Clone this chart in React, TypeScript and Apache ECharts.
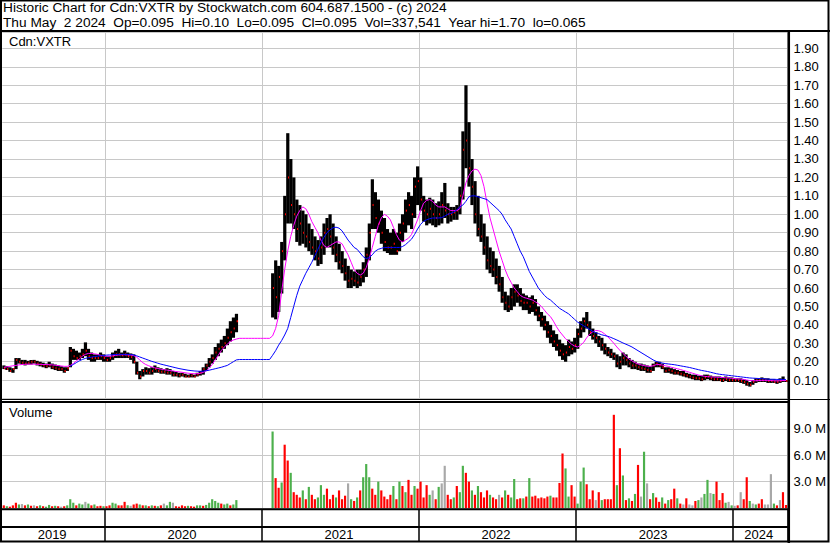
import React, { useEffect, useRef } from 'react';
import * as echarts from 'echarts';

// ---- data (one slot = one week, May 2019 .. May 2 2024) ----
const SLOT_COUNT = 260;
const YEAR_LABELS = ['2019', '2020', '2021', '2022', '2023', '2024'];
const YEAR_START_SLOTS = [0, 34, 86, 138, 190, 242];
const YEAR_LABEL_SLOTS = [16, 59, 111, 163, 215, 250];

const HIGH = [
  0.18, 0.175, 0.17, 0.165, 0.22, 0.22, 0.21, 0.21, 0.205, 0.21,
  0.21, 0.205, 0.2, 0.195, 0.19, 0.2, 0.19, 0.185, 0.18, 0.175,
  0.17, 0.17, 0.28, 0.27, 0.26, 0.25, 0.27, 0.305, 0.27, 0.25,
  0.24, 0.24, 0.25, 0.24, 0.23, 0.23, 0.25, 0.26, 0.27, 0.25,
  0.26, 0.25, 0.245, 0.24, 0.2, 0.15, 0.16, 0.17, 0.165, 0.17,
  0.18, 0.17, 0.165, 0.16, 0.165, 0.16, 0.15, 0.145, 0.14, 0.14,
  0.135, 0.13, 0.135, 0.13, 0.14, 0.15, 0.17, 0.19, 0.22, 0.24,
  0.28, 0.3, 0.32, 0.34, 0.38, 0.42, 0.44, 0.46, null, null,
  null, null, null, null, null, null, null, null, null, 0.68,
  0.75, 0.72, 0.85, 1.1, 1.44, 1.3, 1.2, 1.08, 1.05, 1.02,
  1.0, 0.95, 0.92, 0.88, 0.86, 0.88, 0.95, 0.98, 1.0, 0.95,
  0.88, 0.84, 0.8, 0.76, 0.72, 0.7, 0.69, 0.7, 0.7, 0.74,
  0.82, 0.95, 1.19, 1.12, 1.08, 1.02, 0.98, 0.92, 0.9, 0.92,
  0.9, 0.95, 1.0, 1.08, 1.12, 1.1, 1.2, 1.26, 1.2, 1.1,
  1.08, 1.09, 1.08, 1.06, 1.07, 1.12, 1.17, 1.06, 1.04, 1.04,
  1.05, 1.15, 1.45, 1.7, 1.5, 1.3, 1.18, 1.1, 1.0, 0.95,
  0.88, 0.82, 0.8, 0.76, 0.72, 0.66, 0.58, 0.56, 0.6, 0.62,
  0.62, 0.6, 0.57, 0.56, 0.55, 0.56, 0.54, 0.5, 0.47, 0.45,
  0.42, 0.4, 0.37, 0.35, 0.32, 0.3, 0.29, 0.32, 0.31, 0.33,
  0.38, 0.42, 0.44, 0.47, 0.42, 0.38, 0.36, 0.34, 0.33, 0.3,
  0.28, 0.27, 0.25, 0.24, 0.23, 0.25, 0.24, 0.22, 0.21, 0.2,
  0.19, 0.19, 0.185, 0.18, 0.175, 0.19, 0.2, 0.2, 0.19, 0.17,
  0.17, 0.165, 0.16, 0.155, 0.15, 0.15, 0.14, 0.135, 0.13, 0.13,
  0.125, 0.125, 0.13, 0.13, 0.125, 0.12, 0.12, 0.12, 0.115, 0.12,
  0.115, 0.115, 0.11, 0.11, 0.11, 0.105, 0.1, 0.09, 0.1, 0.11,
  0.11, 0.115, 0.11, 0.11, 0.105, 0.105, 0.1, 0.11, 0.12, 0.1,
];

const LOW = [
  0.16, 0.155, 0.145, 0.14, 0.16, 0.19, 0.185, 0.18, 0.185, 0.185,
  0.19, 0.18, 0.175, 0.17, 0.165, 0.17, 0.16, 0.155, 0.15, 0.15,
  0.14, 0.15, 0.17, 0.21, 0.21, 0.21, 0.22, 0.23, 0.21, 0.2,
  0.2, 0.21, 0.21, 0.2, 0.2, 0.2, 0.21, 0.22, 0.22, 0.22,
  0.22, 0.22, 0.21, 0.19, 0.13, 0.105, 0.12, 0.13, 0.13, 0.13,
  0.14, 0.14, 0.135, 0.135, 0.13, 0.13, 0.12, 0.12, 0.115, 0.12,
  0.115, 0.115, 0.115, 0.115, 0.12, 0.125, 0.13, 0.15, 0.17, 0.19,
  0.21, 0.23, 0.25, 0.27, 0.29, 0.31, 0.33, 0.36, null, null,
  null, null, null, null, null, null, null, null, null, 0.44,
  0.43, 0.47, 0.57, 0.75, 0.95, 0.95, 0.92, 0.85, 0.83, 0.84,
  0.82, 0.8, 0.78, 0.75, 0.72, 0.73, 0.78, 0.82, 0.82, 0.78,
  0.74, 0.7, 0.68, 0.64, 0.6, 0.6, 0.61, 0.6, 0.61, 0.63,
  0.66, 0.75, 0.92, 0.92, 0.9, 0.84, 0.8, 0.79, 0.78, 0.78,
  0.78, 0.8, 0.85, 0.9, 0.94, 0.92, 0.98, 1.05, 1.02, 0.96,
  0.94, 0.95, 0.94, 0.93, 0.94, 0.95, 0.98, 0.95, 0.96, 0.97,
  0.97, 1.0, 1.08, 1.25, 1.15, 1.05, 0.95, 0.88, 0.85, 0.78,
  0.7, 0.68, 0.66, 0.62, 0.58, 0.52, 0.48, 0.47, 0.48, 0.5,
  0.52, 0.5, 0.48, 0.48, 0.46, 0.47, 0.45, 0.42, 0.39, 0.37,
  0.33, 0.3, 0.28, 0.26, 0.23, 0.21, 0.2, 0.23, 0.24, 0.25,
  0.27, 0.33, 0.36, 0.38, 0.34, 0.32, 0.3, 0.28, 0.26, 0.24,
  0.23, 0.22, 0.21, 0.17, 0.16, 0.18, 0.18, 0.17, 0.16, 0.16,
  0.155, 0.15, 0.15, 0.14, 0.14, 0.15, 0.17, 0.17, 0.16, 0.14,
  0.14, 0.135, 0.13, 0.13, 0.125, 0.12, 0.115, 0.11, 0.105, 0.1,
  0.1, 0.095, 0.1, 0.105, 0.1, 0.095, 0.095, 0.095, 0.09, 0.095,
  0.09, 0.09, 0.09, 0.09, 0.085, 0.08, 0.07, 0.065, 0.075, 0.085,
  0.09, 0.09, 0.09, 0.085, 0.085, 0.085, 0.08, 0.085, 0.09, 0.09,
];

const CLOSE = [
  0.165, 0.16, 0.15, 0.16, 0.21, 0.2, 0.195, 0.19, 0.195, 0.2,
  0.2, 0.19, 0.185, 0.18, 0.175, 0.18, 0.17, 0.165, 0.16, 0.16,
  0.15, 0.165, 0.26, 0.23, 0.22, 0.23, 0.24, 0.26, 0.23, 0.22,
  0.22, 0.22, 0.23, 0.22, 0.21, 0.22, 0.23, 0.24, 0.24, 0.235,
  0.24, 0.23, 0.225, 0.2, 0.14, 0.12, 0.15, 0.15, 0.14, 0.15,
  0.16, 0.15, 0.145, 0.145, 0.14, 0.14, 0.13, 0.13, 0.125, 0.13,
  0.12, 0.12, 0.125, 0.12, 0.13, 0.14, 0.16, 0.18, 0.2, 0.22,
  0.25, 0.27, 0.28, 0.3, 0.33, 0.36, 0.38, 0.42, null, null,
  null, null, null, null, null, null, null, null, null, 0.6,
  0.55, 0.66, 0.8, 1.0, 1.2, 1.05, 1.0, 0.92, 0.95, 0.9,
  0.88, 0.85, 0.82, 0.8, 0.76, 0.82, 0.9, 0.92, 0.88, 0.82,
  0.78, 0.74, 0.72, 0.68, 0.64, 0.65, 0.64, 0.63, 0.66, 0.7,
  0.78, 0.9, 1.05, 0.98, 0.95, 0.9, 0.85, 0.82, 0.82, 0.84,
  0.8, 0.9, 0.95, 1.02, 1.05, 1.0, 1.15, 1.18, 1.08, 1.02,
  1.0, 1.03, 1.0, 0.98, 1.0, 1.05, 1.02, 1.0, 1.0, 1.01,
  1.02, 1.1, 1.35, 1.4, 1.25, 1.15, 1.0, 0.92, 0.88, 0.82,
  0.75, 0.72, 0.7, 0.66, 0.62, 0.55, 0.52, 0.5, 0.55, 0.58,
  0.56, 0.53, 0.52, 0.52, 0.5, 0.52, 0.48, 0.45, 0.43, 0.4,
  0.36, 0.34, 0.31, 0.29, 0.26, 0.24, 0.25, 0.28, 0.27, 0.29,
  0.35, 0.38, 0.42, 0.4, 0.36, 0.34, 0.33, 0.31, 0.29, 0.27,
  0.25, 0.24, 0.23, 0.19, 0.2, 0.22, 0.21, 0.19, 0.18, 0.18,
  0.17, 0.165, 0.16, 0.155, 0.15, 0.18, 0.19, 0.18, 0.17, 0.15,
  0.155, 0.15, 0.14, 0.14, 0.135, 0.13, 0.125, 0.12, 0.115, 0.11,
  0.11, 0.105, 0.115, 0.12, 0.11, 0.105, 0.105, 0.1, 0.1, 0.105,
  0.1, 0.1, 0.1, 0.1, 0.095, 0.09, 0.08, 0.075, 0.09, 0.1,
  0.1, 0.1, 0.1, 0.095, 0.095, 0.09, 0.09, 0.095, 0.1, 0.095,
];

// magenta (short) moving average
const MA_SHORT = [
  0.17, 0.172, 0.175, 0.178, 0.18, 0.183, 0.185, 0.186, 0.187, 0.187,
  0.187, 0.186, 0.186, 0.185, 0.185, 0.184, 0.183, 0.181, 0.179, 0.177,
  0.175, 0.175, 0.18, 0.19, 0.205, 0.215, 0.23, 0.24, 0.245, 0.245,
  0.243, 0.24, 0.235, 0.232, 0.23, 0.23, 0.232, 0.235, 0.237, 0.238,
  0.238, 0.237, 0.236, 0.233, 0.225, 0.21, 0.195, 0.185, 0.178, 0.172,
  0.167, 0.163, 0.16, 0.157, 0.155, 0.152, 0.15, 0.147, 0.145, 0.143,
  0.14, 0.138, 0.136, 0.135, 0.135, 0.137, 0.142, 0.15, 0.165, 0.185,
  0.21, 0.235, 0.26, 0.28, 0.295, 0.31, 0.318, 0.323, 0.327, 0.327,
  0.327, 0.327, 0.327, 0.327, 0.327, 0.327, 0.327, 0.327, 0.327, 0.34,
  0.38, 0.45, 0.58, 0.7, 0.8, 0.88, 0.94, 0.99, 1.02, 1.04,
  1.03, 1.0, 0.96, 0.93, 0.9, 0.86, 0.83, 0.82, 0.83, 0.84,
  0.85, 0.85, 0.84, 0.81, 0.78, 0.74, 0.7, 0.68, 0.67, 0.68,
  0.71, 0.76, 0.82, 0.88, 0.94, 0.98, 1.0, 0.99, 0.97, 0.93,
  0.89, 0.86, 0.85, 0.86, 0.87, 0.89, 0.93, 0.97, 1.02, 1.06,
  1.075, 1.08, 1.07, 1.05, 1.04, 1.04, 1.04, 1.03, 1.02, 1.02,
  1.02, 1.03, 1.1, 1.17, 1.21, 1.235, 1.245, 1.24, 1.21, 1.15,
  1.06, 0.98, 0.92, 0.86, 0.8, 0.75, 0.7, 0.66, 0.63, 0.6,
  0.58, 0.56, 0.55, 0.545, 0.54, 0.535, 0.525, 0.515, 0.5, 0.48,
  0.46, 0.445, 0.42, 0.39, 0.365, 0.345, 0.325, 0.31, 0.295, 0.285,
  0.28, 0.29, 0.305, 0.33, 0.35, 0.362, 0.37, 0.368, 0.362, 0.35,
  0.335, 0.318, 0.3, 0.28, 0.262, 0.245, 0.23, 0.215, 0.205, 0.195,
  0.188, 0.183, 0.179, 0.176, 0.175, 0.178, 0.184, 0.185, 0.182, 0.178,
  0.175, 0.17, 0.166, 0.162, 0.158, 0.153, 0.148, 0.143, 0.138, 0.133,
  0.128, 0.124, 0.121, 0.119, 0.118, 0.117, 0.116, 0.115, 0.114, 0.113,
  0.112, 0.11, 0.108, 0.107, 0.106, 0.104, 0.101, 0.098, 0.097, 0.097,
  0.098, 0.099, 0.099, 0.099, 0.098, 0.097, 0.096, 0.097, 0.098, 0.098,
];

// blue (long) moving average
const MA_LONG = [
  null, null, null, null, null, null, null, null, null, null,
  null, null, null, null, null, null, null, null, null, null,
  null, null, 0.175, 0.185, 0.195, 0.205, 0.212, 0.218, 0.222, 0.225,
  0.228, 0.23, 0.232, 0.234, 0.236, 0.237, 0.238, 0.239, 0.24, 0.24,
  0.24, 0.24, 0.239, 0.237, 0.232, 0.226, 0.22, 0.214, 0.208, 0.202,
  0.197, 0.192, 0.187, 0.183, 0.179, 0.175, 0.171, 0.167, 0.163, 0.16,
  0.157, 0.154, 0.152, 0.15, 0.149, 0.148, 0.149, 0.151, 0.154, 0.158,
  0.162, 0.166, 0.17, 0.175, 0.18, 0.19, 0.2, 0.21, 0.212, 0.212,
  0.212, 0.212, 0.212, 0.212, 0.212, 0.212, 0.212, 0.212, 0.212, 0.235,
  0.26, 0.29, 0.315, 0.345, 0.38, 0.44, 0.5, 0.56, 0.61, 0.645,
  0.68, 0.71, 0.74, 0.775, 0.81, 0.845, 0.875, 0.9, 0.915, 0.927,
  0.93, 0.925, 0.91, 0.885, 0.86, 0.84, 0.82, 0.81, 0.79, 0.77,
  0.76, 0.765, 0.78, 0.8, 0.81, 0.815, 0.82, 0.82, 0.82, 0.82,
  0.82, 0.82, 0.825, 0.835, 0.85, 0.865, 0.89, 0.92, 0.945, 0.962,
  0.97, 0.976, 0.98, 0.98, 0.98, 0.982, 0.99, 1.0, 1.005, 1.012,
  1.025, 1.04, 1.05, 1.07, 1.095, 1.1, 1.1, 1.095, 1.09, 1.085,
  1.08, 1.065, 1.05, 1.035, 1.02, 1.0, 0.97, 0.945, 0.92, 0.88,
  0.84, 0.8, 0.77, 0.73, 0.69, 0.66, 0.63, 0.6, 0.58, 0.56,
  0.545, 0.535, 0.52, 0.505, 0.49, 0.48, 0.47, 0.46, 0.445, 0.43,
  0.415, 0.405, 0.395, 0.385, 0.375, 0.365, 0.358, 0.352, 0.346, 0.342,
  0.338, 0.332, 0.325, 0.318, 0.31, 0.302, 0.295, 0.288, 0.28, 0.27,
  0.26, 0.25, 0.24, 0.23, 0.22, 0.21, 0.202, 0.197, 0.193, 0.19,
  0.188, 0.186, 0.184, 0.181, 0.178, 0.175, 0.172, 0.169, 0.165, 0.161,
  0.157, 0.153, 0.15, 0.147, 0.143, 0.139, 0.135, 0.132, 0.13, 0.128,
  0.126, 0.124, 0.122, 0.12, 0.118, 0.116, 0.114, 0.112, 0.111, 0.11,
  0.109, 0.108, 0.107, 0.106, 0.105, 0.105, 0.104, 0.104, 0.104, 0.104,
];

// volume in millions of shares
const VOLUME_M = [
  0.3, 0.2, 0.15, 0.3, 0.6, 0.4, 0.45, 0.3, 0.4, 0.25,
  0.3, 0.2, 0.3, 0.2, 0.15, 0.35, 0.2, 0.25, 0.2, 0.15,
  0.2, 0.3, 1.0, 0.6, 0.3, 0.5, 0.4, 0.7, 0.5, 0.3,
  0.4, 0.2, 0.25, 0.2, 0.2, 0.3, 0.6, 0.5, 0.3, 0.3,
  0.7, 0.3, 0.25, 0.4, 0.5, 0.4, 0.3, 0.3, 0.2, 0.3,
  0.25, 0.2, 0.3, 0.5, 0.3, 0.7, 0.6, 0.2, 0.15, 0.3,
  0.2, 0.25, 0.2, 0.15, 0.3, 0.3, 0.25, 0.35, 0.6, 1.0,
  0.8, 0.6, 0.5, 0.4, 0.5, 0.3, 0.4, 0.9, 0, 0,
  0, 0, 0, 0, 0, 0, 0, 0, 0, 8.7,
  3.4, 2.3, 2.9, 7.2, 5.4, 4.0, 1.8, 1.5, 1.2, 2.0,
  1.0, 2.4, 1.5, 1.0, 1.2, 2.6, 1.5, 2.2, 1.0, 1.5,
  1.2, 2.0, 1.0, 1.4, 2.8, 1.0, 0.8, 1.2, 2.0, 3.5,
  5.0, 3.5, 2.2, 1.5, 3.0, 2.0, 1.3, 1.0, 1.5, 2.5,
  1.0, 3.0, 2.5, 1.8, 3.2, 1.5, 2.5, 2.2, 3.0, 1.2,
  2.6, 1.5, 2.0, 1.0, 2.4, 2.8, 4.8, 1.5, 1.0, 1.2,
  2.5, 1.8, 4.8, 4.0, 3.0, 2.0, 1.5, 2.5, 1.8, 1.2,
  2.0, 1.5, 1.2, 1.0, 1.5, 1.2, 2.0, 1.5, 1.2, 3.3,
  1.0, 1.1, 1.1, 1.3, 3.4, 1.3, 1.4, 1.1, 1.2, 1.1,
  1.3, 1.4, 1.2, 1.2, 2.85, 6.2, 4.5, 1.3, 2.6, 1.3,
  0.5, 3.0, 4.6, 2.7, 1.0, 2.0, 0.9, 1.8, 0.9, 1.0,
  1.0, 1.0, 10.6, 2.6, 6.8, 3.7, 0.9, 1.1, 0.8, 1.6,
  4.9, 1.3, 6.4, 2.8, 1.0, 1.7, 1.2, 0.7, 1.2, 0.5,
  0.9, 1.0, 2.2, 1.1, 0.5, 0.4, 1.1, 0.4, 0.3, 0.8,
  0.9, 1.2, 1.6, 3.2, 1.7, 1.6, 3.0, 0.9, 1.7, 0.6,
  0.7, 0.3, 0.25, 0.3, 1.8, 1.0, 3.5, 0.8, 0.5, 0.4,
  0.5, 1.0, 0.4, 0.4, 3.85, 0.5, 0.3, 0.9, 1.8, 0.34,
];

// r = down day (red), g = up day (green), n = unchanged (grey)
const VOLUME_KIND = [
  'rgrrrgnrgr', 'nrgrggrgrn', 'rgggrggngr', 'grrgrrggrr', 'rgnrrgrgrg',
  'rgrnggnrrr', 'rgrrggrggg', 'ggrggrggnn', 'nnnnnnnnng', 'rrgrrgrrrg',
  'rgrrgggrrr', 'grrrngrgrg', 'ggrrgrrrrg', 'rgrgrrgrrr', 'rgnrgnnrrg',
  'rggrrgrgrr', 'rgrrnrgrgg', 'rrgrgrrrrr', 'rgrrrrggrr', 'gggrrrnrgr',
  'rrrgrgrgrg', 'rngnrgrrgr', 'grrgrnrnnr', 'gnggngrrrg', 'ngnrnrrgng',
  'rrnnngrnrr',
].join('');

const HEADER_1 = 'Historic Chart for Cdn:VXTR by Stockwatch.com 604.687.1500 - (c) 2024';
const HEADER_2 =
  'Thu May  2 2024  Op=0.095  Hi=0.10  Lo=0.095  Cl=0.095  Vol=337,541  Year hi=1.70  lo=0.065';
const SYMBOL = 'Cdn:VXTR';
const VOLUME_TITLE = 'Volume';

const FONT = '"Liberation Sans", Arial, Helvetica, sans-serif';
const KIND_COLOR: Record<string, string> = { r: '#ff0000', g: '#4cb04c', n: '#a8a8a8' };

function buildOption() {
  const slots = Array.from({ length: SLOT_COUNT }, (_, i) => String(i));
  const isYearStart = (i: number) => YEAR_START_SLOTS.indexOf(i) > 0;
  const isLabelSlot = (i: number) => YEAR_LABEL_SLOTS.indexOf(i) >= 0;

  const ohlc: number[][] = [];
  for (let i = 0; i < SLOT_COUNT; i++) {
    if (HIGH[i] != null && LOW[i] != null && CLOSE[i] != null) {
      ohlc.push([i, HIGH[i] as number, LOW[i] as number, CLOSE[i] as number]);
    }
  }
  const vol = VOLUME_M.map((v, i) => ({
    value: v * 1e6,
    itemStyle: { color: KIND_COLOR[VOLUME_KIND[i]] || '#a8a8a8' },
  }));

  const gridL = 2.3;
  const gridR = 42.5;

  const xAxes = [0, 1, 2].map((g) => ({
    type: 'category',
    gridIndex: g,
    data: slots,
    boundaryGap: true,
    axisLine: { show: g === 2, lineStyle: { color: '#000', width: 2 } },
    axisTick: {
      show: g === 2,
      interval: (i: number) => isYearStart(i),
      length: 15,
      lineStyle: { color: '#000', width: 1.5 },
    },
    axisLabel: {
      show: g === 2,
      interval: (i: number) => isLabelSlot(i),
      formatter: (v: string) => {
        const k = YEAR_LABEL_SLOTS.indexOf(Number(v));
        return k >= 0 ? YEAR_LABELS[k] : '';
      },
      margin: 1,
      color: '#000',
      fontSize: 13,
      fontFamily: FONT,
    },
    splitLine: {
      show: true,
      interval: (i: number) => isYearStart(i),
      lineStyle: { color: g === 2 ? '#000' : '#c8c8c8', width: g === 2 ? 1.5 : 1 },
    },
  }));

  return {
    animation: false,
    backgroundColor: '#ffffff',
    grid: [
      { left: gridL, right: gridR, top: 32, height: 366.6 },
      { left: gridL, right: gridR, top: 402.5, height: 105.5 },
      { left: gridL, right: gridR, top: 510, height: 16.5 },
    ],
    xAxis: xAxes,
    yAxis: [
      {
        type: 'value',
        gridIndex: 0,
        position: 'right',
        min: 0,
        max: 1.989,
        interval: 0.1,
        axisLine: { show: false },
        axisTick: { show: false },
        splitLine: { lineStyle: { color: '#c8c8c8', width: 1 } },
        axisLabel: {
          margin: 6,
          color: '#000',
          fontSize: 13,
          fontFamily: FONT,
          formatter: (v: number) =>
            v < 0.05 || Math.abs(v * 10 - Math.round(v * 10)) > 1e-6 ? '' : v.toFixed(2),
        },
      },
      {
        type: 'value',
        gridIndex: 1,
        position: 'right',
        min: 0,
        max: 12e6,
        interval: 3e6,
        axisLine: { show: false },
        axisTick: { show: false },
        splitLine: { lineStyle: { color: '#c8c8c8', width: 1 } },
        axisLabel: {
          margin: 6,
          color: '#000',
          fontSize: 13,
          fontFamily: FONT,
          formatter: (v: number) => (v > 0 && v < 11.9e6 ? (v / 1e6).toFixed(1) + ' M' : ''),
        },
      },
      { type: 'value', gridIndex: 2, show: false, min: 0, max: 1 },
    ],
    series: [
      {
        type: 'custom',
        name: 'price',
        xAxisIndex: 0,
        yAxisIndex: 0,
        data: ohlc,
        encode: { x: 0, y: [1, 2, 3] },
        renderItem: (params: any, api: any) => {
          const i = api.value(0);
          const hi = api.coord([i, api.value(1)]);
          const lo = api.coord([i, api.value(2)]);
          const cl = api.coord([i, api.value(3)]);
          const bw = api.size([1, 0])[0];
          const left = hi[0] - bw / 2;
          return {
            type: 'group',
            children: [
              {
                type: 'rect',
                shape: { x: left, y: hi[1], width: bw + 0.2, height: Math.max(1, lo[1] - hi[1]) },
                style: { fill: '#000000' },
              },
              {
                type: 'rect',
                shape: { x: left + bw - 1.2, y: cl[1] - 1, width: 1.3, height: 2 },
                style: { fill: '#ff0000' },
              },
            ],
          };
        },
      },
      {
        type: 'line',
        name: 'ma short',
        xAxisIndex: 0,
        yAxisIndex: 0,
        data: MA_SHORT,
        symbol: 'none',
        lineStyle: { color: '#ff00ff', width: 1 },
        z: 3,
      },
      {
        type: 'line',
        name: 'ma long',
        xAxisIndex: 0,
        yAxisIndex: 0,
        data: MA_LONG,
        symbol: 'none',
        lineStyle: { color: '#0000ff', width: 1 },
        z: 3,
      },
      {
        type: 'bar',
        name: 'volume',
        xAxisIndex: 1,
        yAxisIndex: 1,
        data: vol,
        barWidth: '72%',
      },
    ],
    graphic: [
      {
        type: 'text',
        left: 3,
        top: 0,
        style: { text: HEADER_1, font: `13.7px ${FONT}`, fill: '#000' },
        z: 10,
      },
      {
        type: 'text',
        left: 3,
        top: 15,
        style: { text: HEADER_2, font: `13.7px ${FONT}`, fill: '#000' },
        z: 10,
      },
      {
        type: 'text',
        left: 9,
        top: 34.5,
        style: { text: SYMBOL, font: `13px ${FONT}`, fill: '#000' },
        z: 10,
      },
      {
        type: 'text',
        left: 9,
        top: 405.5,
        style: { text: VOLUME_TITLE, font: `13px ${FONT}`, fill: '#000' },
        z: 10,
      },
      // frame
      { type: 'rect', shape: { x: 1, y: 0.5, width: 827.5, height: 541 }, style: { fill: 'none', stroke: '#000', lineWidth: 2 }, z: 20 },
      { type: 'line', shape: { x1: 0, y1: 31, x2: 830, y2: 31 }, style: { stroke: '#000', lineWidth: 2 }, z: 20 },
      { type: 'line', shape: { x1: 788.8, y1: 31, x2: 788.8, y2: 543 }, style: { stroke: '#000', lineWidth: 2.5 }, z: 20 },
      { type: 'line', shape: { x1: 0, y1: 399.5, x2: 830, y2: 399.5 }, style: { stroke: '#000', lineWidth: 1 }, z: 20 },
      { type: 'line', shape: { x1: 0, y1: 402, x2: 789, y2: 402 }, style: { stroke: '#000', lineWidth: 2 }, z: 20 },
      { type: 'line', shape: { x1: 0, y1: 509.3, x2: 789, y2: 509.3 }, style: { stroke: '#000', lineWidth: 2 }, z: 20 },
    ],
  };
}

export default function App() {
  const ref = useRef<HTMLDivElement>(null);
  useEffect(() => {
    if (!ref.current) return;
    const chart = echarts.init(ref.current, undefined, { renderer: 'svg' });
    chart.setOption(buildOption() as any);
    return () => {
      chart.dispose();
    };
  }, []);
  return (
    <div
      ref={ref}
      style={{ position: 'fixed', left: 0, top: 0, width: 830, height: 543, background: '#fff' }}
    />
  );
}
